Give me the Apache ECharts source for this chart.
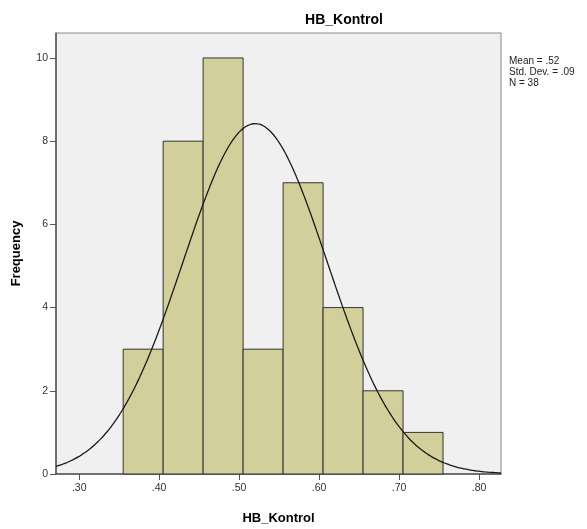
<!DOCTYPE html>
<html><head><meta charset="utf-8">
<script src="https://cdn.jsdelivr.net/npm/echarts@6/dist/echarts.min.js"></script>
<style>html,body{margin:0;padding:0;background:#fff}#c{width:587px;height:529px}</style>
</head><body><div id="c"></div>
<script>
// Histogram bins (lower edges) and frequencies
const binStarts = [0.355, 0.405, 0.455, 0.505, 0.555, 0.605, 0.655, 0.705];
const binWidth = 0.05;
const counts = [3, 8, 10, 3, 7, 4, 2, 1];
const xTicks = [0.30, 0.40, 0.50, 0.60, 0.70, 0.80];
const yTicks = [0, 2, 4, 6, 8, 10];
const statMean = 0.52, statSD = 0.09, statN = 38;
const legendLines = ['Mean = .52', 'Std. Dev. = .09', 'N = 38'];

const xMin = 0.271, xMax = 0.8275;
const binData = binStarts.map((s, i) => [s, s + binWidth, counts[i]]);

// Fitted normal curve from the stated statistics
const curve = [];
for (let k = 0; k <= 140; k++) {
  const x = xMin + (xMax - xMin) * k / 140;
  const z = (x - statMean) / statSD;
  curve.push([x, statN * binWidth * Math.exp(-0.5 * z * z) / (statSD * Math.sqrt(2 * Math.PI))]);
}

const chart = echarts.init(document.getElementById('c'));
const font = 'Liberation Sans, Arial, sans-serif';
chart.setOption({
  animation: false,
  textStyle: { fontFamily: font },
  title: {
    text: 'HB_Kontrol', left: 339, top: 8, textAlign: 'center',
    textStyle: { fontSize: 14, fontWeight: 'bold', color: '#000', fontFamily: font }
  },
  grid: { left: 56, top: 33, right: 86, bottom: 55, outerBoundsMode: 'none', containLabel: false, show: true, backgroundColor: '#f0f0f0', borderColor: '#888', borderWidth: 1 },
  xAxis: {
    type: 'value', min: xMin, max: xMax,
    name: 'HB_Kontrol', nameLocation: 'middle', nameGap: 38,
    nameTextStyle: { fontSize: 13, fontWeight: 'bold', color: '#000', fontFamily: font },
    axisLine: { lineStyle: { color: '#555', width: 1.5 } },
    axisTick: { show: true, length: 6, lineStyle: { color: '#555' }, customValues: xTicks },
    axisLabel: { color: '#333', fontSize: 10.5, margin: 9, customValues: xTicks, formatter: v => '.' + Math.round(v * 100) },
    splitLine: { show: false }
  },
  yAxis: {
    type: 'value', min: 0, max: 10.6,
    name: 'Frequency', nameLocation: 'middle', nameGap: 33,
    nameTextStyle: { fontSize: 13, fontWeight: 'bold', color: '#000', fontFamily: font },
    axisLine: { show: true, lineStyle: { color: '#555', width: 1.5 } },
    axisTick: { show: true, length: 6, lineStyle: { color: '#555' }, customValues: yTicks },
    axisLabel: { color: '#333', fontSize: 10.5, margin: 8, customValues: yTicks },
    splitLine: { show: false }
  },
  graphic: [{
    type: 'text', left: 509, top: 56,
    style: { text: legendLines.join('\n'), font: '10px ' + font, fill: '#222', lineHeight: 11 }
  }],
  series: [{
    type: 'custom',
    data: binData,
    renderItem: function (params, api) {
      const p0 = api.coord([api.value(0), 0]);
      const p1 = api.coord([api.value(1), api.value(2)]);
      return {
        type: 'rect',
        shape: { x: p0[0], y: p1[1], width: p1[0] - p0[0], height: p0[1] - p1[1] },
        style: { fill: '#d3cf9a', stroke: '#333', lineWidth: 1 }
      };
    },
    encode: { x: [0, 1], y: 2 },
    z: 2
  }, {
    type: 'line', data: curve, showSymbol: false, smooth: true,
    lineStyle: { color: '#1a1a1a', width: 1.3 }, z: 3
  }]
});
</script></body></html>
